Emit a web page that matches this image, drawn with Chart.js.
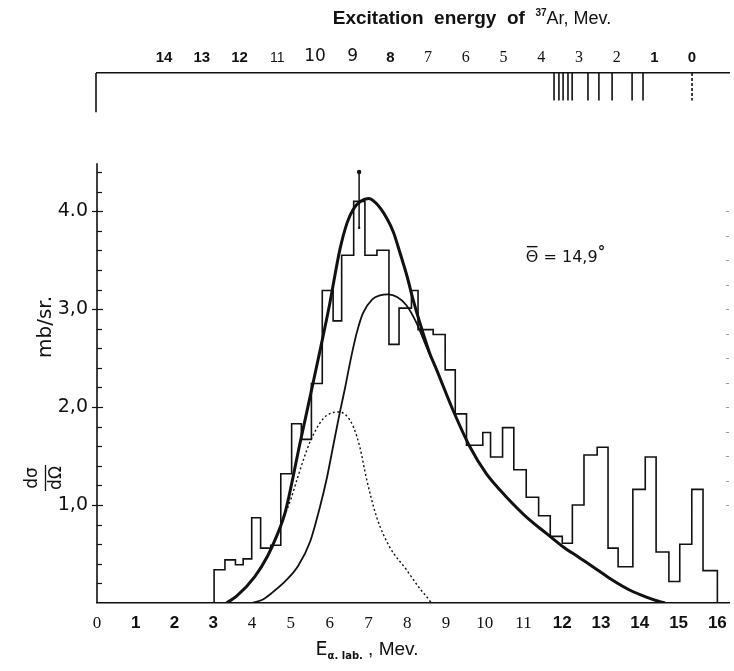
<!DOCTYPE html>
<html>
<head>
<meta charset="utf-8">
<script src="https://cdn.jsdelivr.net/npm/chart.js@4.4.1/dist/chart.umd.min.js"></script>
<style>
  html, body { margin: 0; padding: 0; background: #fff; }
</style>
</head>
<body>
<canvas id="spectrum" width="734" height="671"></canvas>
<script>
// histogram (E alpha lab in MeV, dsigma/dOmega in mb/sr)
const binEdges = [3.02, 3.30, 3.57, 3.77, 3.99, 4.22, 4.48, 4.74, 5.02, 5.27, 5.53, 5.81, 6.09, 6.31, 6.62,
  6.91, 7.22, 7.53, 7.79, 8.11, 8.28, 8.67, 8.98, 9.24, 9.53, 9.95, 10.15, 10.46, 10.75, 11.07, 11.39,
  11.69, 12.00, 12.26, 12.56, 12.90, 13.18, 13.44, 13.82, 14.14, 14.42, 14.75, 15.03, 15.34, 15.63, 16.00];
const binValues = [0.34, 0.44, 0.39, 0.45, 0.87, 0.56, 0.59, 1.32, 1.83, 1.67, 2.24, 3.19, 2.88, 3.55, 4.10,
  3.55, 3.60, 2.64, 3.01, 3.19, 2.79, 2.74, 2.38, 1.93, 1.61, 1.74, 1.49, 1.79, 1.36, 1.08, 0.89,
  0.68, 0.61, 1.00, 1.51, 1.59, 0.56, 0.37, 1.16, 1.49, 0.52, 0.22, 0.60, 1.16, 0.33];

// fitted curves
const sumE = [3.34, 3.6, 4.07, 4.4, 4.63, 4.85, 5.23, 5.7, 6.0, 6.26, 6.45, 6.61, 6.8, 7.0, 7.2, 7.47, 7.65,
  7.81, 8.0, 8.15, 8.35, 8.58, 8.76, 9.18, 9.61, 10.04, 10.4, 10.73, 11.15, 11.59, 12.0, 12.45, 12.9,
  13.31, 13.75, 14.17, 14.5, 14.65];
const sumV = [0, 0.07, 0.27, 0.48, 0.68, 0.92, 1.62, 2.48, 3.05, 3.6, 3.88, 4.02, 4.1, 4.13, 4.08, 3.93, 3.78,
  3.58, 3.33, 3.1, 2.83, 2.55, 2.38, 1.97, 1.6, 1.32, 1.15, 1.01, 0.85, 0.71, 0.58, 0.46, 0.34,
  0.23, 0.13, 0.06, 0.015, 0];
const mainE = [3.99, 4.25, 4.5, 4.85, 5.19, 5.5, 5.75, 5.92, 6.1, 6.26, 6.4, 6.55, 6.7, 6.86, 7.1, 7.3, 7.51,
  7.75, 7.98, 8.24, 8.45, 8.6];
const mainV = [0, 0.03, 0.1, 0.22, 0.38, 0.63, 0.98, 1.26, 1.62, 1.94, 2.2, 2.5, 2.76, 2.96, 3.1, 3.14, 3.15,
  3.12, 3.04, 2.86, 2.66, 2.52];
const lowE = [4.75, 5.0, 5.15, 5.49, 5.83, 6.05, 6.22, 6.44, 6.62, 6.78, 6.95, 7.21, 7.55, 7.98, 8.32, 8.57, 8.62];
const lowV = [0.8, 1.06, 1.25, 1.64, 1.88, 1.94, 1.95, 1.91, 1.79, 1.59, 1.27, 0.88, 0.57, 0.34, 0.15, 0.03, 0];

// error bar on the highest bin
const errE = 6.76;
const errLow = 3.83;
const errHigh = 4.40;

// 37Ar levels marked under the top axis (excitation energy, MeV)
const levelEx = [3.66, 3.53, 3.42, 3.29, 3.18, 2.76, 2.47, 2.12, 1.59, 1.30];
const groundEx = [0];

const yLabels = { 1: '1,0', 2: '2,0', 3: '3,0', 4: '4.0' };

// tick label typefaces, as on the plate
const serif = '"Liberation Serif", serif';
const narrow = '"Liberation Sans Narrow", "Liberation Sans", sans-serif';
const bottomBold = [1, 2, 3];
const bottomNarrowBold = [12, 13, 14, 15, 16];
const topBold = [14, 13, 12, 8, 1, 0];
const topLarge = [10, 9];
const topThin = [11];

const yMax = 5.41;        // top frame line
const axisTop = 4.49;     // where the drawn y axis starts
const frameBreak = 5.01;  // lower end of the upper frame piece
const levelBottom = 5.13;

const pts = (xs, ys) => xs.map((x, i) => ({ x: x, y: ys[i] }));

const histData = [{ x: binEdges[0], y: 0 }];
binValues.forEach((v, i) => histData.push({ x: binEdges[i], y: v }));
histData.push({ x: binEdges[binEdges.length - 1], y: 0 });

const bars = (list) => {
  const out = [];
  list.forEach(e => {
    out.push({ x: e, y: yMax }, { x: e, y: levelBottom }, { x: e, y: null });
  });
  return out;
};

const plateText = {
  id: 'plateText',
  afterDraw(chart) {
    const { ctx, chartArea: a, scales: { x, y } } = chart;
    ctx.save();
    ctx.strokeStyle = '#111';
    ctx.fillStyle = '#111';

    // left frame, broken between the box and the axis
    ctx.lineWidth = 1.6;
    ctx.beginPath();
    ctx.moveTo(a.left - 1, a.top);
    ctx.lineTo(a.left - 1, y.getPixelForValue(frameBreak));
    ctx.moveTo(a.left, y.getPixelForValue(axisTop));
    ctx.lineTo(a.left, a.bottom);
    ctx.stroke();

    // y ticks, pointing inwards
    ctx.lineWidth = 1.2;
    y.ticks.forEach(t => {
      if (t.value <= 0.01 || t.value > axisTop) return;
      const py = Math.round(y.getPixelForValue(t.value)) + 0.5;
      const major = Math.abs(t.value - Math.round(t.value)) < 1e-6;
      ctx.beginPath();
      ctx.moveTo(a.left - (major ? 5 : 0), py);
      ctx.lineTo(a.left + (major ? 6 : 5), py);
      ctx.stroke();
    });

    // faint marks on the right edge
    ctx.strokeStyle = '#999';
    ctx.lineWidth = 1;
    for (let v = 1; v <= 4.001; v += 0.25) {
      const py = Math.round(y.getPixelForValue(v)) + 0.5;
      ctx.beginPath();
      ctx.moveTo(a.right - 3, py);
      ctx.lineTo(a.right, py);
      ctx.stroke();
    }
    ctx.strokeStyle = '#111';

    // y axis title
    ctx.textAlign = 'center';
    ctx.textBaseline = 'middle';
    ctx.save();
    ctx.translate(46, 327);
    ctx.rotate(-Math.PI / 2);
    ctx.font = '20px "DejaVu Sans"';
    ctx.fillText('mb/sr.', 0, 0);
    ctx.restore();

    ctx.save();
    ctx.translate(45, 478);
    ctx.rotate(-Math.PI / 2);
    ctx.font = '17px "DejaVu Sans"';
    ctx.fillText('dσ', 0, -12);
    ctx.fillText('dΩ', 0, 12);
    ctx.lineWidth = 1.3;
    ctx.beginPath();
    ctx.moveTo(-13, 0.5);
    ctx.lineTo(13, 0.5);
    ctx.stroke();
    ctx.restore();

    // mixed-font titles
    const line = (parts, cx, by) => {
      let w = 0;
      parts.forEach(p => { ctx.font = p.f; w += ctx.measureText(p.t).width; });
      let px = cx - w / 2;
      ctx.textAlign = 'left';
      ctx.textBaseline = 'alphabetic';
      parts.forEach(p => {
        ctx.font = p.f;
        ctx.fillText(p.t, px, by + p.dy);
        px += ctx.measureText(p.t).width;
      });
    };
    line([
      { t: 'Excitation  energy  of  ', f: 'bold 19px "Liberation Sans"', dy: 0 },
      { t: '37', f: 'bold 10px "Liberation Sans"', dy: -8 },
      { t: 'Ar, Mev.', f: '18px ' + narrow, dy: 0 }
    ], 472, 24);
    line([
      { t: 'E', f: '19px "DejaVu Sans"', dy: 0 },
      { t: 'α. lab.', f: 'bold 10px "DejaVu Sans"', dy: 4 },
      { t: ' , Mev.', f: '19px ' + narrow, dy: 0 }
    ], 367, 655);

    // mean angle
    const tx = x.getPixelForValue(11.06);
    const ty = y.getPixelForValue(3.52);
    ctx.font = '16px "DejaVu Sans"';
    ctx.textBaseline = 'middle';
    ctx.fillText('Θ = 14,9', tx, ty);
    const thW = ctx.measureText('Θ').width;
    const allW = ctx.measureText('Θ = 14,9').width;
    ctx.lineWidth = 1.4;
    ctx.beginPath();
    ctx.moveTo(tx + 1, ty - 11.5);
    ctx.lineTo(tx + thW - 1, ty - 11.5);
    ctx.stroke();
    ctx.font = 'bold 15px "DejaVu Sans"';
    ctx.fillText('°', tx + allW, ty - 5);
    ctx.restore();
  }
};

const tickFontBottom = (c) => {
  if (!c.tick) return { family: serif, size: 17 };
  const v = c.tick.value;
  if (bottomBold.includes(v)) return { family: '"Liberation Sans", sans-serif', size: 17, weight: 'bold' };
  if (bottomNarrowBold.includes(v)) return { family: narrow, size: 17, weight: 'bold' };
  return { family: serif, size: 17 };
};
const tickFontTop = (c) => {
  if (!c.tick) return { family: serif, size: 16 };
  const v = c.tick.value;
  if (topBold.includes(v)) return { family: narrow, size: 15, weight: 'bold' };
  if (topLarge.includes(v)) return { family: '"DejaVu Sans", sans-serif', size: 17 };
  if (topThin.includes(v)) return { family: narrow, size: 14 };
  return { family: serif, size: 16 };
};

const isInt = (v) => Math.abs(v - Math.round(v)) < 1e-6;

// keep the plot box fixed: no extra room for edge labels
const fixHeight = (h) => (s) => { s.height = h; s.paddingLeft = 0; s.paddingRight = 0; };

new Chart(document.getElementById('spectrum'), {
  type: 'line',
  data: {
    datasets: [
      { data: histData, stepped: true, borderColor: '#111', borderWidth: 1.6, pointRadius: 0 },
      { data: pts(sumE, sumV), borderColor: '#111', borderWidth: 3, pointRadius: 0, cubicInterpolationMode: 'monotone' },
      { data: pts(mainE, mainV), borderColor: '#111', borderWidth: 1.8, pointRadius: 0, cubicInterpolationMode: 'monotone' },
      { data: pts(lowE, lowV), borderColor: '#111', borderWidth: 1.4, borderDash: [2, 2.5], pointRadius: 0, cubicInterpolationMode: 'monotone' },
      { data: [{ x: errE, y: errLow }, { x: errE, y: errHigh }], borderColor: '#111', borderWidth: 1.5,
        pointRadius: [1.2, 2.2], pointBackgroundColor: '#111', pointBorderWidth: 0 },
      { data: bars(levelEx), xAxisID: 'x2', borderColor: '#111', borderWidth: 1.6, pointRadius: 0, spanGaps: false },
      { data: bars(groundEx), xAxisID: 'x2', borderColor: '#111', borderWidth: 1.6, borderDash: [3, 2], pointRadius: 0, spanGaps: false }
    ]
  },
  options: {
    responsive: false,
    animation: false,
    devicePixelRatio: 1,
    layout: { padding: { left: 0, right: 5, top: 0, bottom: 0 } },
    plugins: { legend: { display: false }, tooltip: { enabled: false } },
    scales: {
      x: {
        type: 'linear',
        position: 'bottom',
        min: 0,
        max: 16.3,
        afterFit: fixHeight(68),
        grid: { display: false, drawTicks: false },
        border: { display: true, color: '#111', width: 1.6 },
        ticks: {
          stepSize: 1,
          includeBounds: false,
          padding: 10,
          color: '#111',
          maxRotation: 0,
          autoSkip: false,
          font: tickFontBottom,
          callback: (v) => (isInt(v) && v <= 16 ? String(v) : '')
        }
      },
      x2: {
        type: 'linear',
        position: 'top',
        reverse: true,
        min: -0.98,
        max: 15.78,
        afterFit: fixHeight(73),
        grid: { display: false, drawTicks: false },
        border: { display: true, color: '#111', width: 1.6 },
        ticks: {
          stepSize: 1,
          includeBounds: false,
          padding: 6,
          color: '#111',
          maxRotation: 0,
          autoSkip: false,
          font: tickFontTop,
          callback: (v) => (isInt(v) && v >= 0 && v <= 14 ? String(Math.round(v)) : '')
        }
      },
      y: {
        type: 'linear',
        min: 0,
        max: yMax,
        afterFit: (s) => { s.width = 97; s.paddingTop = 0; s.paddingBottom = 0; },
        grid: { display: false, drawTicks: false },
        border: { display: false },
        ticks: {
          stepSize: 0.2,
          includeBounds: false,
          padding: 9,
          color: '#111',
          autoSkip: false,
          font: { family: '"DejaVu Sans", sans-serif', size: 19 },
          callback: (v) => (isInt(v) && yLabels[Math.round(v)] ? yLabels[Math.round(v)] : '')
        }
      }
    }
  },
  plugins: [plateText]
});
</script>
</body>
</html>
